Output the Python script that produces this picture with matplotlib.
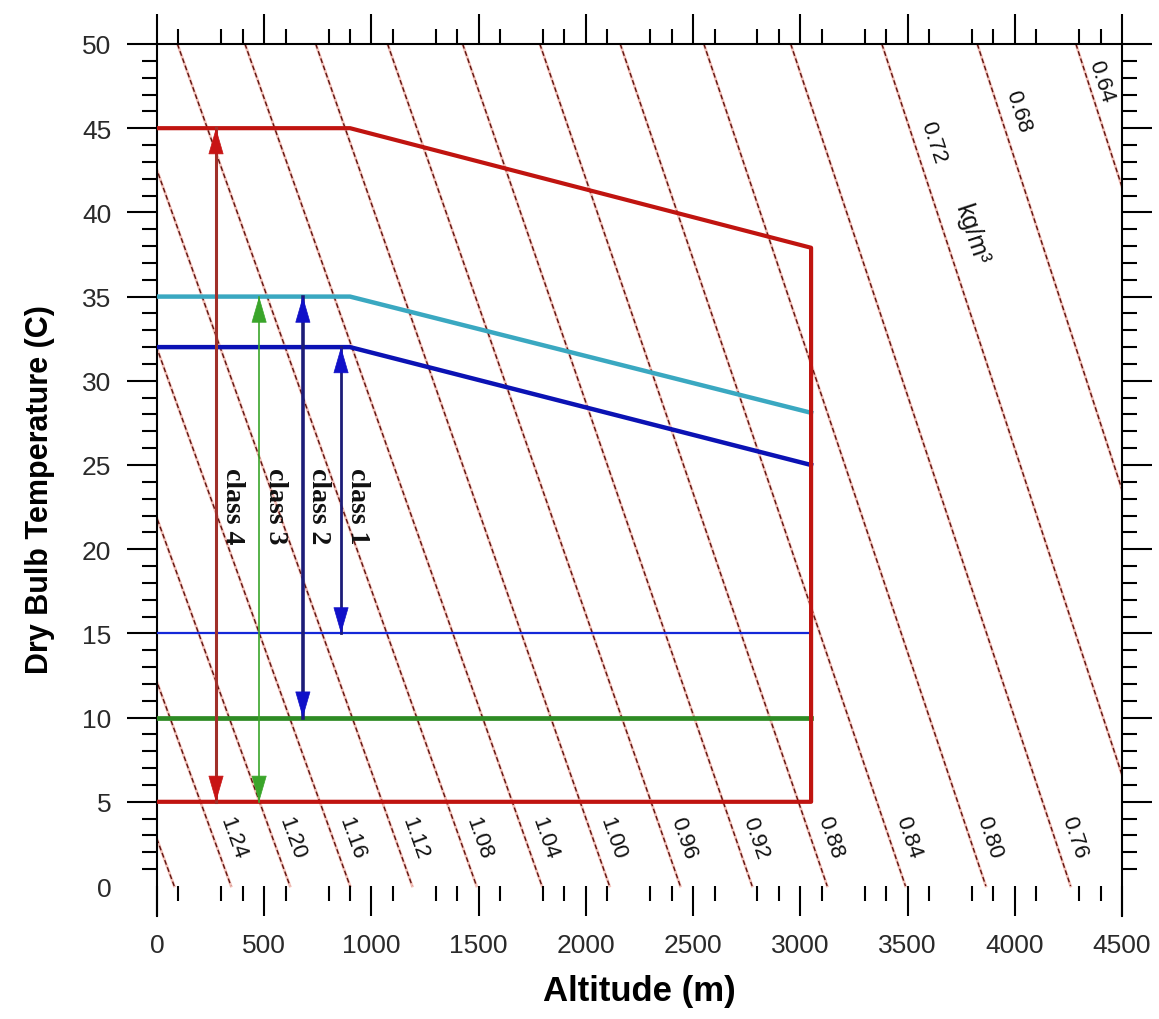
import numpy as np
import matplotlib
matplotlib.use('Agg')
from matplotlib import pyplot as plt

# class envelopes, altitude in m, dry bulb in C
env_alt = [0, 900, 3050]
class4_top = [45, 45, 37.9]
class2_top = [35, 35, 28.1]
class1_top = [32, 32, 25.0]
floor_alt = [0, 3050]
class4_floor = 5
class2_floor = 10
class1_floor = 15

# range arrows
class_names = ['class 1', 'class 2', 'class 3', 'class 4']
class_alt = [858, 680, 476, 275]
class_low = [15, 10, 5, 5]
class_high = [32, 35, 35, 45]

# air density lines (kg/m3): altitude where each line is at 50 C and at 0 C
rho = [1.28, 1.24, 1.20, 1.16, 1.12, 1.08, 1.04, 1.00, 0.96,
       0.92, 0.88, 0.84, 0.80, 0.76, 0.72, 0.68, 0.64]
alt_at_50 = [-1360, -1080, -800, -510, -210, 95, 410, 740, 1075,
             1425, 1785, 2160, 2550, 2955, 3380, 3825, 4285]
alt_at_0 = [80, 345, 620, 900, 1190, 1490, 1795, 2110, 2440,
            2775, 3125, 3490, 3865, 4260, 4670, 5100, 5550]
rho_bottom_labels = [1.24, 1.20, 1.16, 1.12, 1.08, 1.04, 1.00,
                     0.96, 0.92, 0.88, 0.84, 0.80, 0.76]
rho_top_labels = [0.72, 0.68, 0.64]

x_ticks = [0, 500, 1000, 1500, 2000, 2500, 3000, 3500, 4000, 4500]
y_ticks = [0, 5, 10, 15, 20, 25, 30, 35, 40, 45, 50]

sans = ['Liberation Sans', 'DejaVu Sans']
serif = ['Liberation Serif', 'DejaVu Serif']

fig = plt.figure(figsize=(11.59, 10.20), dpi=100)
ax = fig.add_axes([0.1355, 0.1010, 0.8326, 0.8549])
ax.set_xlim(0, 4500)
ax.set_ylim(-1.78, 50)

# density lines
for r, a50, a0 in zip(rho, alt_at_50, alt_at_0):
    ax.plot([a50, a0], [50, 0], color='#f4c2ba', lw=2.0, zorder=1)
    ax.plot([a50, a0], [50, 0], color='#5e1410', lw=1.0, dashes=(3.5, 2.0), zorder=1.1)


def line_alt(r, t):
    i = rho.index(r)
    return alt_at_50[i] + (alt_at_0[i] - alt_at_50[i]) * (50 - t) / 50


def line_angle(r):
    i = rho.index(r)
    p1 = ax.transData.transform((alt_at_50[i], 50))
    p2 = ax.transData.transform((alt_at_0[i], 0))
    return np.degrees(np.arctan2(p2[1] - p1[1], p2[0] - p1[0]))


for r in rho_bottom_labels:
    ax.text(line_alt(r, 2.9) + 92, 2.9, '%.2f' % r, rotation=line_angle(r),
            rotation_mode='anchor', ha='center', va='center',
            fontsize=16, family=sans, color='#111111', zorder=3)
for r, t, off in zip(rho_top_labels, [44.2, 46.0, 47.8], [88, 86, 62]):
    ax.text(line_alt(r, t) + off, t, '%.2f' % r, rotation=line_angle(r),
            rotation_mode='anchor', ha='center', va='center',
            fontsize=16, family=sans, color='#111111', zorder=3)
ax.text(3800, 38.7, 'kg/m³', rotation=line_angle(0.72), rotation_mode='anchor',
        ha='center', va='center', fontsize=18, family=sans, color='#111111', zorder=3)

# envelopes
ax.plot(floor_alt, [class1_floor] * 2, color='#1428d8', lw=1.6, zorder=4)
ax.plot(floor_alt, [class2_floor] * 2, color='#2e8b24', lw=3.4, zorder=4)
ax.plot(env_alt, class2_top, color='#3aa8c1', lw=3.2, zorder=4)
ax.plot(env_alt, class1_top, color='#0b12b4', lw=3.2, zorder=4)
ax.plot(env_alt + floor_alt[::-1], class4_top + [class4_floor] * 2,
        color='#c01410', lw=3.0, zorder=5)

# class arrows
shaft_colors = ['#1c1c78', '#1c1c78', '#3aa52a', '#a0302a']
shaft_widths = [2.0, 2.6, 1.2, 2.2]
head_colors = ['#1010c8', '#1010c8', '#3aa52a', '#c81414']
for name, x, lo, hi, sc, sw, hc in zip(class_names, class_alt, class_low, class_high,
                                       shaft_colors, shaft_widths, head_colors):
    ax.plot([x, x], [lo, hi], color=sc, lw=sw, zorder=6)
    for tip, base in [(hi, hi - 1.5), (lo, lo + 1.5)]:
        ax.annotate('', xy=(x, tip), xytext=(x, base),
                    arrowprops=dict(arrowstyle='-|>,head_length=1.1,head_width=0.32',
                                    color=hc, lw=0.5, shrinkA=0, shrinkB=0,
                                    mutation_scale=16), zorder=7)
    ax.text(x + 75, 22.6, name, rotation=-90, ha='center', va='center',
            fontsize=20, family=serif, weight='bold', color='#111111', zorder=7)

# axes, ticks
for side in ['left', 'right', 'top']:
    ax.spines[side].set_linewidth(1.5)
ax.spines['bottom'].set_position(('data', 0))
ax.spines['bottom'].set_color('none')

ax.set_xticks(x_ticks)
ax.set_xticklabels([str(v) for v in x_ticks])
ax.set_xticks([m for m in range(100, 4500, 100) if m % 500 not in (0, 200)], minor=True)
ax.set_yticks(y_ticks)
ax.set_yticklabels([str(v) for v in y_ticks])
ax.set_yticks([t for t in range(1, 50) if t % 5 != 0], minor=True)

ax.tick_params(which='both', direction='out', top=True, right=True,
               labeltop=False, labelright=False, width=1.5, color='black')
ax.tick_params(which='major', length=21.5)
ax.tick_params(which='minor', length=10.5)
ax.tick_params(axis='x', which='major', pad=12, labelsize=19, labelcolor='#2a2a2a')
ax.tick_params(axis='y', which='major', pad=11.5, labelsize=19, labelcolor='#2a2a2a')
for lab in ax.get_xticklabels() + ax.get_yticklabels():
    lab.set_family(sans)
zero_tick = ax.yaxis.get_major_ticks()[0]
zero_tick.tick1line.set_visible(False)
zero_tick.tick2line.set_visible(False)

ax.set_xlabel('Altitude (m)', fontsize=25, weight='bold', family=sans)
ax.xaxis.set_label_coords(0.5, -0.066)
ax.set_ylabel('Dry Bulb Temperature (C)', fontsize=22, weight='bold', family=sans)
ax.yaxis.set_label_coords(-0.1057, 0.49)

fig.savefig('out.png', dpi=100)
